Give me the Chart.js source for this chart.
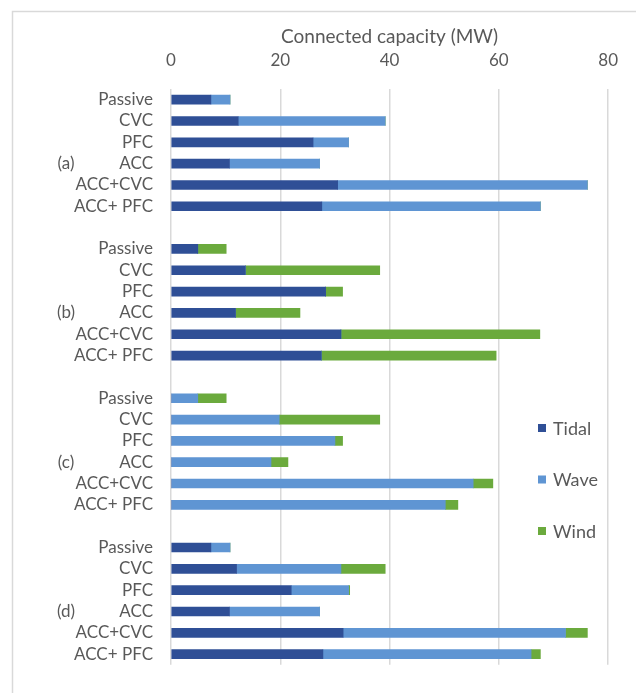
<!DOCTYPE html>
<html>
<head>
<meta charset="utf-8">
<script src="https://cdn.jsdelivr.net/npm/chart.js@4"></script>
<style>
  html, body { margin: 0; padding: 0; background: #ffffff; }
  #wrap { width: 636px; height: 693px; position: relative; }
</style>
</head>
<body>
<div id="wrap"><canvas id="chart"></canvas></div>
<script>
// Control schemes compared in each case
const schemes = ['Passive', 'CVC', 'PFC', 'ACC', 'ACC+CVC', 'ACC+ PFC'];
// Case labels, one per block of schemes
const groups = ['(a)', '(b)', '(c)', '(d)'];
// Axis ticks (MW)
const xTicks = [0, 20, 40, 60, 80];

// Connected capacity (MW), block (a) .. (d), schemes in order above
const tidal = [
  7.3, 12.3, 26.0, 10.7, 30.5, 27.6,   // (a)
  4.9, 13.6, 28.3, 11.8, 31.1, 27.5,   // (b)
  0, 0, 0, 0, 0, 0,                    // (c)
  7.3, 12.0, 22.0, 10.7, 31.5, 27.8    // (d)
];
const wave = [
  3.5, 26.9, 6.5, 16.5, 45.7, 40.0,    // (a)
  0, 0, 0, 0, 0, 0,                    // (b)
  4.9, 19.8, 30.0, 18.3, 55.3, 50.2,   // (c)
  3.5, 19.1, 10.5, 16.5, 40.7, 38.1    // (d)
];
const wind = [
  0, 0, 0, 0, 0, 0,                    // (a)
  5.2, 24.6, 3.1, 11.8, 36.4, 32.0,    // (b)
  5.2, 18.4, 1.4, 3.1, 3.6, 2.3,       // (c)
  0, 8.1, 0.2, 0, 4.0, 1.7             // (d)
];

const seriesNames = ['Tidal', 'Wave', 'Wind'];
const seriesColors = ['#2F4F96', '#5F95D3', '#6BAA3D'];

// Lay the blocks out one under another with an empty row between them
const rowLabels = [];
function spread(values) {
  const out = [];
  groups.forEach((g, gi) => {
    schemes.forEach((s, si) => out.push(values[gi * schemes.length + si]));
    if (gi < groups.length - 1) out.push(null);
  });
  return out;
}
groups.forEach((g, gi) => {
  schemes.forEach(s => rowLabels.push(s));
  if (gi < groups.length - 1) rowLabels.push('');
});

const FONT = 'Lato, "Open Sans", sans-serif';
const TEXT = '#595959';

// White card with a thin grey frame behind the chart
const framePlugin = {
  id: 'frame',
  beforeDraw(chart) {
    const ctx = chart.ctx;
    ctx.save();
    ctx.fillStyle = '#ffffff';
    ctx.fillRect(0, 0, chart.width, chart.height);
    ctx.strokeStyle = '#d9d9d9';
    ctx.lineWidth = 1.5;
    ctx.strokeRect(12.5, 11.5, chart.width + 10, chart.height + 10);
    ctx.restore();
  }
};

// Case labels "(a)".."(d)" beside the ACC row of each block
const groupLabelPlugin = {
  id: 'groupLabels',
  afterDraw(chart, args, opts) {
    const ctx = chart.ctx;
    const y = chart.scales.y;
    ctx.save();
    ctx.font = opts.size + 'px ' + FONT;
    ctx.fillStyle = TEXT;
    ctx.textAlign = 'center';
    ctx.textBaseline = 'middle';
    groups.forEach((g, gi) => {
      const row = gi * (schemes.length + 1) + opts.anchorRow;
      ctx.fillText(g, opts.x, y.getPixelForValue(row));
    });
    ctx.restore();
  }
};

// Legend laid over the right side of the plot
const sideLegendPlugin = {
  id: 'sideLegend',
  afterDraw(chart, args, opts) {
    const ctx = chart.ctx;
    ctx.save();
    ctx.font = opts.size + 'px ' + FONT;
    ctx.textAlign = 'left';
    ctx.textBaseline = 'middle';
    chart.data.datasets.forEach((ds, i) => {
      const cy = opts.y + i * opts.gap;
      ctx.fillStyle = ds.backgroundColor;
      ctx.fillRect(opts.x, cy - opts.box / 2, opts.box, opts.box);
      ctx.fillStyle = TEXT;
      ctx.fillText(ds.label, opts.x + opts.box + 7, cy + 1);
    });
    ctx.restore();
  }
};

const datasets = [tidal, wave, wind].map((vals, i) => ({
  label: seriesNames[i],
  data: spread(vals),
  backgroundColor: seriesColors[i],
  borderWidth: 0,
  barThickness: 9
}));

new Chart(document.getElementById('chart'), {
  type: 'bar',
  data: { labels: rowLabels, datasets },
  plugins: [framePlugin, groupLabelPlugin, sideLegendPlugin],
  options: {
    indexAxis: 'y',
    responsive: true,
    maintainAspectRatio: false,
    animation: false,
    layout: { padding: { top: 0, right: 15, bottom: 26, left: 0 } },
    scales: {
      x: {
        position: 'top',
        stacked: true,
        min: 0,
        max: 80,
        afterBuildTicks(scale) { scale.ticks = xTicks.map(v => ({ value: v })); },
        afterFit(scale) { scale.height = 89; },
        grid: { color: '#d9d9d9', lineWidth: 1.5, drawTicks: false },
        border: { display: false },
        ticks: { color: TEXT, font: { family: FONT, size: 17 }, padding: 18 },
        title: {
          display: true,
          text: 'Connected capacity (MW)',
          color: TEXT,
          font: { family: FONT, size: 19 },
          padding: { top: 25, bottom: 0 }
        }
      },
      y: {
        stacked: true,
        afterFit(scale) { scale.width = 171; },
        grid: { display: false, drawTicks: false },
        border: { display: false },
        ticks: { color: TEXT, font: { family: FONT, size: 17 }, padding: 18, autoSkip: false }
      }
    },
    plugins: {
      legend: { display: false },
      tooltip: { enabled: false },
      groupLabels: { x: 66, anchorRow: 3, size: 17 },
      sideLegend: { x: 538, y: 428, gap: 51.5, box: 8, size: 18 }
    }
  }
});
</script>
</body>
</html>
